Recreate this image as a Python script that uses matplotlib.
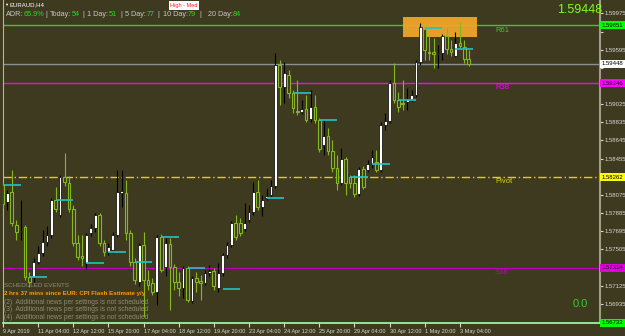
import matplotlib
matplotlib.use("Agg")
import matplotlib.pyplot as plt
import matplotlib.transforms as mtransforms
from matplotlib.patches import Rectangle
import numpy as np

plt.rcParams["font.family"] = ["Liberation Sans", "DejaVu Sans"]

# EURAUD H4 candles
opens = [1.58179, 1.58001, 1.58106, 1.57760, 1.57687, 1.57739, 1.57216, 1.57216, 1.57373, 1.57467,
         1.57582, 1.57656, 1.58022, 1.57865, 1.58263, 1.58200, 1.57928, 1.57572, 1.57436, 1.57362,
         1.57677, 1.57729, 1.57865, 1.57572, 1.57478, 1.57499, 1.57656, 1.58095, 1.58095, 1.57677,
         1.57373, 1.57164, 1.57551, 1.57184, 1.57153, 1.57059, 1.57635, 1.57320, 1.57561, 1.57320,
         1.57164, 1.57101, 1.57310, 1.56965, 1.57205, 1.57174, 1.57153, 1.57258, 1.57279, 1.57101,
         1.57258, 1.57446, 1.57551, 1.57781, 1.57781, 1.57718, 1.57813, 1.57896, 1.58106, 1.57949,
         1.58043, 1.58074, 1.58169, 1.59435, 1.59205, 1.59331, 1.59142, 1.58954, 1.58943, 1.58975,
         1.58870, 1.58996, 1.58860, 1.58598, 1.58692, 1.58535, 1.58357, 1.58200, 1.58451, 1.58263,
         1.58200, 1.58085, 1.58347, 1.58336, 1.58399, 1.58420, 1.58336, 1.58807, 1.58849, 1.59247,
         1.59069, 1.59038, 1.59048, 1.59079, 1.59121, 1.59467, 1.59812, 1.59572, 1.59572, 1.59551,
         1.59561, 1.59739, 1.59603, 1.59530, 1.59666, 1.59624, 1.59498]
highs = [1.58211, 1.58127, 1.58336, 1.57813, 1.58022, 1.57760, 1.57268, 1.57415, 1.57540, 1.57708,
         1.57750, 1.58043, 1.58158, 1.58284, 1.58514, 1.58273, 1.57970, 1.57656, 1.57656, 1.57677,
         1.57771, 1.57886, 1.57886, 1.57603, 1.57572, 1.57687, 1.58336, 1.58336, 1.58231, 1.57708,
         1.57415, 1.57572, 1.57687, 1.57289, 1.57205, 1.57656, 1.57666, 1.57624, 1.57624, 1.57352,
         1.57268, 1.57331, 1.57331, 1.57226, 1.57268, 1.57237, 1.57289, 1.57341, 1.57310, 1.57362,
         1.57467, 1.57582, 1.57802, 1.57865, 1.57834, 1.57991, 1.57970, 1.58211, 1.58231, 1.58074,
         1.58148, 1.58231, 1.59561, 1.59488, 1.59467, 1.59383, 1.59174, 1.59278, 1.59069, 1.59121,
         1.59174, 1.59121, 1.58881, 1.58860, 1.58776, 1.58650, 1.58493, 1.58566, 1.58472, 1.58284,
         1.58284, 1.58368, 1.58378, 1.58441, 1.58546, 1.58546, 1.58839, 1.58933, 1.59278, 1.59456,
         1.59153, 1.59278, 1.59195, 1.59174, 1.59488, 1.59875, 1.59823, 1.59750, 1.59718, 1.59645,
         1.59760, 1.59823, 1.59697, 1.59781, 1.59886, 1.59697, 1.59593]
lows = [1.57938, 1.57917, 1.57750, 1.57603, 1.57603, 1.57184, 1.57111, 1.57164, 1.57352, 1.57436,
        1.57540, 1.57624, 1.57896, 1.57844, 1.58169, 1.57896, 1.57540, 1.57394, 1.57331, 1.57300,
        1.57645, 1.57687, 1.57540, 1.57436, 1.57446, 1.57467, 1.57635, 1.57949, 1.57603, 1.57331,
        1.57143, 1.57122, 1.56797, 1.57080, 1.57027, 1.56923, 1.57268, 1.57226, 1.56870, 1.57080,
        1.57017, 1.56996, 1.56954, 1.56944, 1.57059, 1.56975, 1.57132, 1.57226, 1.57080, 1.57059,
        1.57226, 1.57415, 1.57530, 1.57603, 1.57645, 1.57697, 1.57792, 1.57865, 1.57917, 1.57854,
        1.58022, 1.58043, 1.58148, 1.59017, 1.59038, 1.59090, 1.58933, 1.58912, 1.58922, 1.58839,
        1.58839, 1.58828, 1.58525, 1.58493, 1.58493, 1.58315, 1.58127, 1.58179, 1.58074, 1.58148,
        1.58053, 1.58064, 1.58137, 1.58315, 1.58357, 1.58315, 1.58315, 1.58755, 1.58828, 1.59038,
        1.58943, 1.58964, 1.58964, 1.59048, 1.59100, 1.59435, 1.59488, 1.59488, 1.59404, 1.59404,
        1.59488, 1.59551, 1.59530, 1.59519, 1.59613, 1.59456, 1.59425]
closes = [1.57980, 1.58095, 1.57781, 1.57687, 1.57697, 1.57216, 1.57164, 1.57373, 1.57467, 1.57582,
          1.57656, 1.58022, 1.57928, 1.58263, 1.58211, 1.57928, 1.57572, 1.57425, 1.57415, 1.57656,
          1.57729, 1.57865, 1.57572, 1.57478, 1.57530, 1.57656, 1.58106, 1.58116, 1.57677, 1.57373,
          1.57184, 1.57551, 1.57184, 1.57132, 1.57059, 1.57635, 1.57289, 1.57572, 1.57320, 1.57164,
          1.57101, 1.57310, 1.56975, 1.57205, 1.57164, 1.57153, 1.57258, 1.57279, 1.57122, 1.57258,
          1.57446, 1.57551, 1.57781, 1.57635, 1.57677, 1.57781, 1.57896, 1.58106, 1.57949, 1.58022,
          1.58064, 1.58169, 1.59435, 1.59205, 1.59352, 1.59142, 1.58985, 1.58943, 1.58975, 1.58860,
          1.58996, 1.58860, 1.58556, 1.58692, 1.58535, 1.58357, 1.58200, 1.58451, 1.58200, 1.58200,
          1.58085, 1.58347, 1.58158, 1.58399, 1.58472, 1.58336, 1.58807, 1.58849, 1.59247, 1.59069,
          1.58996, 1.59027, 1.59079, 1.59121, 1.59467, 1.59833, 1.59593, 1.59561, 1.59551, 1.59561,
          1.59739, 1.59603, 1.59572, 1.59666, 1.59634, 1.59498, 1.59448]

date_labels = ["9 Apr 2019", "11 Apr 04:00", "12 Apr 12:00", "15 Apr 20:00", "17 Apr 04:00",
               "18 Apr 12:00", "19 Apr 20:00", "23 Apr 04:00", "24 Apr 12:00", "25 Apr 20:00",
               "29 Apr 04:00", "30 Apr 12:00", "1 May 20:00", "3 May 04:00"]
bars_per_label = 8

price_ticks = [1.59975, 1.59785, 1.59595, 1.59405, 1.59215, 1.59025, 1.58835, 1.58645, 1.58455,
               1.58265, 1.58075, 1.57885, 1.57695, 1.57505, 1.57315, 1.57125, 1.56935]
y_min, y_max = 1.56733, 1.60116

# pivot levels
r61 = 1.59851
current = 1.59448
r38 = 1.59246
pivot = 1.58262
s38 = 1.57314

# cyan markers: start bar, price
cyan_start = [0, 6, 12, 19, 24, 30, 36, 42, 50, 60, 66, 72, 79, 84, 90, 96, 103]
cyan_price = [1.58179, 1.57216, 1.58022, 1.57362, 1.57478, 1.57373, 1.57635, 1.57310, 1.57090,
              1.58043, 1.59142, 1.58860, 1.58263, 1.58399, 1.59069, 1.59823, 1.59603]

# supply zone
zone_start, zone_end = 91, 108
zone_low, zone_high = 1.59729, 1.59938

adr_pct = "65.9%"
adr_names = ["Today:", "1 Day:", "5 Day:", "10 Day:", "20 Day:"]
adr_values = [54, 51, 77, 79, 84]

news_lines = ["(2)  Additional news per settings is not scheduled",
              "(3)  Additional news per settings is not scheduled",
              "(4)  Additional news per settings is not scheduled"]

BG = "#3e3a20"
BULL = "#ffffff"
BEAR = "#84b81c"
W, H = 625, 336

fig = plt.figure(figsize=(W / 100, H / 100), dpi=100)
fig.patch.set_facecolor(BG)
ax = fig.add_axes([3 / W, 13 / H, 597 / W, 323 / H])
ax.set_facecolor(BG)
ax.set_xlim(0.2, 135.9)
ax.set_ylim(y_min, y_max)


def ptext(px, py, s, **kw):
    kw.setdefault("va", "center")
    fig.text(px / W, 1 - py / H, s, **kw)


# level lines
ax.axhline(r61, color="#33cc33", lw=1, zorder=2)
ax.axhline(current, color="#8a9098", lw=1, zorder=2)
ax.axhline(r38, color="#ff00ff", lw=1, zorder=2)
ax.axhline(pivot, color="#d8d800", lw=1, ls=(0, (6, 2, 1, 2)), zorder=2)
ax.axhline(s38, color="#c000c0", lw=0.8, zorder=2)

ax.add_patch(Rectangle((zone_start, zone_low), zone_end - zone_start, zone_high - zone_low,
                       facecolor="#eea52c", edgecolor="none", alpha=0.95, zorder=2.5))

# candles
x = np.arange(len(closes))
o = np.array(opens)
c = np.array(closes)
hi = np.array(highs)
lo = np.array(lows)
up = c >= o
body_lo = np.minimum(o, c)
body_h = np.maximum(np.abs(c - o), 0.00003)

ax.vlines(x[up], lo[up], hi[up], color="#000000", lw=0.8, zorder=3)
ax.vlines(x[~up], lo[~up], hi[~up], color=BEAR, lw=0.8, zorder=3)
ax.bar(x[up], body_h[up], bottom=body_lo[up], width=0.62, color=BULL,
       edgecolor="#000000", linewidth=0.5, zorder=4)
ax.bar(x[~up], body_h[~up], bottom=body_lo[~up], width=0.62, color=BG,
       edgecolor=BEAR, linewidth=0.8, zorder=4)

ax.hlines(cyan_price, np.array(cyan_start), np.array(cyan_start) + 4,
          color="#22c4c4", lw=1.2, zorder=5)

# level captions
ax.text(112, r61 - 0.0005, "R61", color="#33cc33", fontsize=5.5, ha="left", va="center")
ax.text(112, r38 - 0.0005, "R38", color="#ff00ff", fontsize=5.5, ha="left", va="center")
ax.text(112, pivot - 0.0005, "Pivot", color="#d8d800", fontsize=5.5, ha="left", va="center")
ax.text(112, s38 - 0.0005, "S38", color="#c000c0", fontsize=5.5, ha="left", va="center")

# axes styling
ax.spines["top"].set_visible(False)
ax.spines["right"].set_color("#a09c88")
ax.spines["right"].set_linewidth(1.5)
ax.spines["left"].set_color("#b8b49c")
ax.spines["left"].set_linewidth(0.8)
ax.spines["bottom"].set_color("#a8ffa8")
ax.spines["bottom"].set_linewidth(1.2)

# colored price boxes cover the scale labels next to them
box_levels = [(r61, "#00ff00"), (current, "#ffffff"), (r38, "#ff00ff"),
              (pivot, "#ffff00"), (s38, "#e000e0"), (y_min, "#00ff00")]
gap = 0.0008
tick_labels = []
for p in price_ticks:
    covered = any(abs(p - v) < gap for v, _ in box_levels)
    tick_labels.append("" if covered else f"{p:.5f}")

ax.yaxis.tick_right()
ax.set_yticks(price_ticks)
ax.set_yticklabels(tick_labels)
ax.tick_params(axis="y", colors="#d8d8d8", labelsize=4.3, length=2, pad=1.5)

ax.set_xticks(np.arange(len(date_labels)) * bars_per_label)
ax.set_xticklabels(date_labels, ha="left")
ax.tick_params(axis="x", colors="#d8d8d8", labelsize=4, length=3, pad=1)

trans = mtransforms.blended_transform_factory(ax.transAxes, ax.transData)
for val, fc in box_levels:
    ax.text(1.003, val, f"{val:.5f}", transform=trans, fontsize=4.3, color="#000000",
            ha="left", va="center", clip_on=False, zorder=10,
            bbox=dict(boxstyle="square,pad=0.25", facecolor=fc, edgecolor="none"))

# big price readouts
ptext(580, 10, f"{current:.5f}", color="#7cff1a", fontsize=9, ha="center")
ptext(580, 304, "0.0", color="#33cc33", fontsize=8, ha="center")

# header
ptext(4, 5, "\u25bc", color="#ffffff", fontsize=3)
ptext(10, 5, "EURAUD,H4", color="#ffffff", fontsize=4.3, ha="left")
ptext(184, 5.5, "High - Med", color="#ff2020", fontsize=4, ha="center",
      bbox=dict(boxstyle="square,pad=0.3", facecolor="#ffffff", edgecolor="none"))

hy = 14.5
ptext(6, hy, "ADR:", color="#c8c8c8", fontsize=5.2, ha="left")
ptext(24, hy, adr_pct, color="#19e619", fontsize=5.2, ha="left")
name_x = [50, 87, 125, 163, 208]
val_x = [72, 109, 147, 188, 233]
bar_x = [45, 82, 120, 157, 199]
for nx, vx, name, val in zip(name_x, val_x, adr_names, adr_values):
    ptext(nx, hy, name, color="#c8c8c8", fontsize=5.2, ha="left")
    ptext(vx, hy, str(val), color="#19e619", fontsize=5.2, ha="left")
for bx in bar_x:
    ptext(bx, hy, "|", color="#c8c8c8", fontsize=5.2, ha="left")

# scheduled events
ptext(4, 285.5, "SCHEDULED EVENTS", color="#8e8c74", fontsize=4.5, ha="left")
ptext(4, 294, "2 hrs 37 mins since EUR: CPI Flash Estimate y/y", color="#ff9a00",
      fontsize=4.4, ha="left", fontweight="bold")
for i, line in enumerate(news_lines):
    ptext(4, 302 + 7.6 * i, line, color="#8e8c74", fontsize=4.8, ha="left")

fig.savefig("out.png", dpi=100, facecolor=BG)
